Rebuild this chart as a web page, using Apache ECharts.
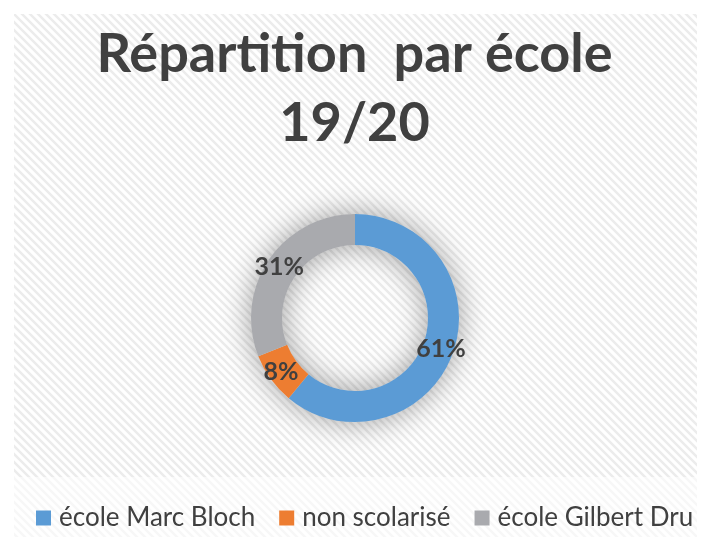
<!DOCTYPE html>
<html>
<head>
<meta charset="utf-8">
<script src="https://cdn.jsdelivr.net/npm/echarts@6/dist/echarts.min.js"></script>
<style>
  html, body { margin: 0; padding: 0; background: #fff; }
  #main { width: 709px; height: 540px; }
</style>
</head>
<body>
<div id="main"></div>
<script>
var categories = ['école Marc Bloch', 'non scolarisé', 'école Gilbert Dru'];
var values = [61, 8, 31];
var colors = ['#5B9BD5', '#ED7D31', '#A9AAAE'];

// diagonal stripes, like the office pattern fill
function stripes(dark, light) {
  var c = document.createElement('canvas');
  c.width = 8; c.height = 8;
  var g = c.getContext('2d');
  g.fillStyle = light;
  g.fillRect(0, 0, 8, 8);
  g.strokeStyle = dark;
  g.lineWidth = 2.5;
  g.beginPath();
  g.moveTo(-2, -2); g.lineTo(10, 10);
  g.moveTo(-6, 2); g.lineTo(2, 10);
  g.moveTo(6, -2); g.lineTo(10, 2);
  g.stroke();
  return c;
}

var myChart = echarts.init(document.getElementById('main'));

var pieData = categories.map(function (name, i) {
  return { name: name, value: values[i], itemStyle: { color: colors[i] } };
});

option = {
  backgroundColor: '#fff',
  animation: false,
  graphic: [{
    type: 'rect', z: -10,
    shape: { x: 14, y: 14, width: 683, height: 463 },
    style: { fill: { image: stripes('#ececec', '#ffffff'), repeat: 'repeat' } }
  }, {
    type: 'rect', z: -10,
    shape: { x: 14, y: 477, width: 683, height: 60 },
    style: { fill: { image: stripes('#f7f7f7', '#ffffff'), repeat: 'repeat' } }
  }],
  title: {
    text: 'Répartition  par école\n19/20',
    left: 'center',
    top: 15,
    textStyle: {
      fontFamily: 'Lato',
      fontWeight: 'bold',
      fontSize: 54,
      lineHeight: 69,
      color: '#404040'
    }
  },
  legend: {
    data: categories,
    left: 31,
    top: 500,
    itemWidth: 15,
    itemHeight: 15,
    itemGap: 24,
    icon: 'rect',
    textStyle: {
      fontFamily: 'Lato',
      fontSize: 26,
      color: '#404040',
      padding: [0, 0, 0, 3]
    }
  },
  series: [{
    // soft glow behind the ring
    type: 'pie',
    silent: true,
    z: 1,
    radius: [73, 104],
    center: [355, 318],
    label: { show: false },
    labelLine: { show: false },
    itemStyle: {
      color: '#d8d8d8',
      shadowBlur: 30,
      shadowColor: 'rgba(0,0,0,0.38)'
    },
    data: [{ value: 1, name: '' }]
  }, {
    name: 'école',
    type: 'pie',
    z: 2,
    radius: [73, 104],
    center: [355, 318],
    startAngle: 90,
    clockwise: true,
    label: {
      show: true,
      position: 'inside',
      formatter: '{c}%',
      fontFamily: 'Lato',
      fontWeight: 'bold',
      fontSize: 25,
      color: '#404040'
    },
    labelLine: { show: false },
    data: pieData
  }]
};
myChart.setOption(option);
</script>
</body>
</html>
